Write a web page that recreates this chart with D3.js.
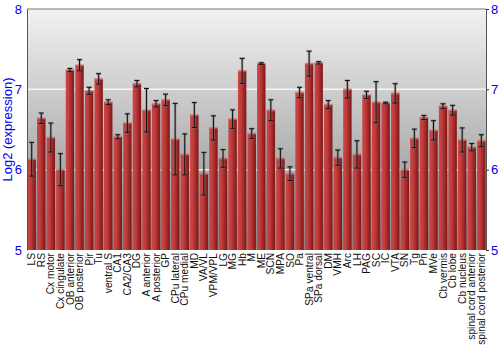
<!DOCTYPE html>
<html>
<head>
<meta charset="utf-8">
<script src="https://cdn.jsdelivr.net/npm/d3@7"></script>
<style>
  body { margin: 0; background: #fff; }
  svg { display: block; font-family: "Liberation Sans", Arial, sans-serif; }
</style>
</head>
<body>
<div id="chart"></div>
<script>
const regions = ["LS", "RS", "Cx motor", "Cx cingulate", "OB anterior", "OB posterior", "Pir", "Tu",
  "ventral S", "CA1", "CA2/CA3", "DG", "A anterior", "A posterior", "GP", "CPu lateral", "CPu medial",
  "MD", "VA/VL", "VPM/VPL", "LG", "MG", "Hb", "M", "ME", "SCN", "MPA", "SO", "Pa", "SPa ventral",
  "SPa dorsal", "DM", "VMH", "Arc", "LH", "PAG", "SC", "IC", "VTA", "SN", "Tg", "Pn", "MVe",
  "Cb vermis", "Cb lobe", "Cb nucleus", "spinal cord anterior", "spinal cord posterior"]

const expression = [6.13, 6.64, 6.40, 6.00, 7.24, 7.30, 6.98, 7.13, 6.84, 6.41, 6.58, 7.07, 6.74, 6.82,
  6.87, 6.38, 6.19, 6.68, 5.95, 6.52, 6.14, 6.63, 7.23, 6.45, 7.32, 6.74, 6.14, 5.95, 6.96, 7.32,
  7.33, 6.81, 6.15, 7.00, 6.19, 6.93, 6.84, 6.83, 6.95, 6.00, 6.39, 6.65, 6.49, 6.79, 6.74, 6.37,
  6.28, 6.36]

// error bar half-widths
const errors = [0.21, 0.065, 0.18, 0.20, 0.02, 0.07, 0.045, 0.065, 0.03, 0.025, 0.115, 0.04, 0.27, 0.04,
  0.07, 0.445, 0.255, 0.155, 0.265, 0.15, 0.11, 0.115, 0.155, 0.06, 0.01, 0.13, 0.12, 0.085, 0.065, 0.155,
  0.015, 0.05, 0.095, 0.11, 0.17, 0.045, 0.255, 0.01, 0.12, 0.095, 0.115, 0.025, 0.12, 0.03, 0.06, 0.15,
  0.045, 0.075]

const yTicks = [5, 6, 7, 8]

const w = 500, h = 350
const margin = {top: 9, right: 14, bottom: 100, left: 27}

const svg = d3.select("#chart").append("svg")
  .attr("width", w)
  .attr("height", h)

const defs = svg.append("defs")
const bg = defs.append("linearGradient").attr("id", "bg")
  .attr("x1", 0).attr("y1", 0).attr("x2", 0).attr("y2", 1)
bg.append("stop").attr("offset", "0%").attr("stop-color", "#f2f2f2")
bg.append("stop").attr("offset", "100%").attr("stop-color", "#868686")

const barGrad = defs.append("linearGradient").attr("id", "bar")
  .attr("x1", 0).attr("y1", 0).attr("x2", 1).attr("y2", 0)
barGrad.append("stop").attr("offset", "0%").attr("stop-color", "#c84848")
barGrad.append("stop").attr("offset", "35%").attr("stop-color", "#c43c3c")
barGrad.append("stop").attr("offset", "100%").attr("stop-color", "#7c1616")

const x = d3.scaleBand()
  .domain(regions)
  .range([margin.left, w - margin.right])
  .paddingInner(0.12)
  .paddingOuter(0.05)

const y = d3.scaleLinear()
  .domain([5, 8])
  .range([h - margin.bottom, margin.top])

// plot background
svg.append("rect")
  .attr("x", margin.left).attr("y", margin.top)
  .attr("width", w - margin.right - margin.left)
  .attr("height", y(5) - y(8))
  .attr("fill", "url(#bg)")

// grid
svg.append("g")
  .selectAll("line")
  .data([6, 7])
  .join("line")
  .attr("x1", margin.left).attr("x2", w - margin.right)
  .attr("y1", d => y(d)).attr("y2", d => y(d))
  .attr("stroke", "#fff")
  .attr("stroke-opacity", 0.8)
  .attr("stroke-width", 1.5)

// bars
const bars = svg.append("g")
bars.selectAll("rect.bar")
  .data(expression)
  .join("rect")
  .attr("class", "bar")
  .attr("x", (d, i) => x(regions[i]))
  .attr("y", d => y(d))
  .attr("width", x.bandwidth())
  .attr("height", d => y(5) - y(d))
  .attr("fill", "url(#bar)")

bars.selectAll("rect.cap")
  .data(expression)
  .join("rect")
  .attr("class", "cap")
  .attr("x", (d, i) => x(regions[i]))
  .attr("y", d => y(d) - 1)
  .attr("width", x.bandwidth())
  .attr("height", 2)
  .attr("fill", "#d97070")
  .attr("opacity", 0.7)

// error bars
const eb = svg.append("g")
expression.forEach((v, i) => {
  const cx = x(regions[i]) + x.bandwidth() / 2
  const lo = y(v - errors[i]), hi = y(v + errors[i])
  const g = eb.append("g")
  ;[["#777", 2.5, 0.5], ["#111", 1, 1]].forEach(([c, sw, op]) => {
    g.append("line").attr("x1", cx).attr("x2", cx).attr("y1", lo).attr("y2", hi)
      .attr("stroke", c).attr("stroke-width", sw).attr("stroke-opacity", op)
    ;[lo, hi].forEach(yy => {
      g.append("line").attr("x1", cx - 2.5).attr("x2", cx + 2.5).attr("y1", yy).attr("y2", yy)
        .attr("stroke", c).attr("stroke-width", sw).attr("stroke-opacity", op)
    })
  })
})

// top border
svg.append("line")
  .attr("x1", margin.left).attr("x2", w - margin.right)
  .attr("y1", margin.top).attr("y2", margin.top)
  .attr("stroke", "#777")

// axes
const left = svg.append("g")
  .attr("transform", `translate(${margin.left},0)`)
  .call(d3.axisLeft(y).tickValues(yTicks).tickSize(0).tickPadding(5).tickFormat(d3.format("d")))
const right = svg.append("g")
  .attr("transform", `translate(${w - margin.right},0)`)
  .call(d3.axisRight(y).tickValues(yTicks).tickSize(3).tickPadding(2).tickFormat(d3.format("d")))

;[left, right].forEach(a => {
  a.select(".domain").attr("stroke", "#555")
  a.selectAll(".tick line").attr("stroke", "#333")
  a.selectAll("text")
    .attr("fill", "#0000ee")
    .style("font-size", "13px")
})

const bottom = svg.append("g")
  .attr("transform", `translate(0,${y(5)})`)
  .call(d3.axisBottom(x).tickSize(0).tickPadding(3))
bottom.select(".domain").remove()
bottom.selectAll("text")
  .attr("transform", "rotate(-90)")
  .attr("x", -3)
  .attr("y", 0)
  .attr("dy", "0.35em")
  .attr("text-anchor", "end")
  .attr("fill", "#111")
  .style("font-size", "10.2px")

svg.append("text")
  .attr("transform", `translate(12,${(y(5) + y(8)) / 2}) rotate(-90)`)
  .attr("text-anchor", "middle")
  .attr("fill", "#0000ee")
  .style("font-size", "13px")
  .text("Log2 (expression)")
</script>
</body>
</html>
